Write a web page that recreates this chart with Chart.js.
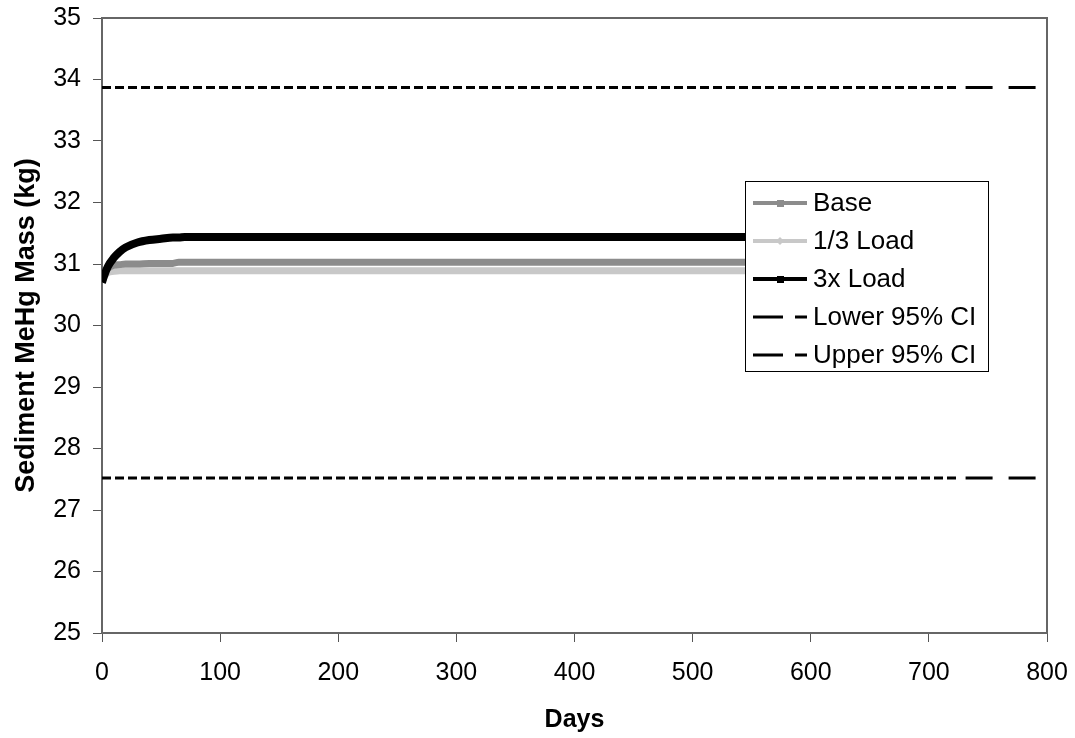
<!DOCTYPE html>
<html>
<head>
<meta charset="utf-8">
<script src="https://cdn.jsdelivr.net/npm/chart.js@4/dist/chart.umd.min.js"></script>
<style>
  html, body { margin: 0; padding: 0; background: #fff; }
  #wrap { width: 1075px; height: 738px; }
</style>
</head>
<body>
<div id="wrap"><canvas id="massChart" width="1075" height="738"></canvas></div>
<script>
// values
const days = [0, 2, 5, 10, 15, 20, 30, 40, 50, 60, 65, 70, 730];
const baseMass = [30.70, 30.84, 30.93, 30.98, 30.99, 31.00, 31.00, 31.01, 31.01, 31.01, 31.03, 31.03, 31.03];
const oneThirdMass = [30.70, 30.80, 30.86, 30.88, 30.89, 30.89, 30.89, 30.89, 30.89, 30.89, 30.89, 30.89, 30.89];
const threeXMass = [30.70, 30.82, 30.96, 31.10, 31.20, 31.27, 31.35, 31.39, 31.41, 31.43, 31.43, 31.44, 31.44];

const ciDays = [0, 726, 791];
const lowerCI = [27.52, 27.52, 27.52];
const upperCI = [33.87, 33.87, 33.87];

const seriesNames = ['Base', '1/3 Load', '3x Load', 'Lower 95% CI', 'Upper 95% CI'];
const xTicks = [0, 100, 200, 300, 400, 500, 600, 700, 800];
const yTicks = [25, 26, 27, 28, 29, 30, 31, 32, 33, 34, 35];

const FONT = "'Liberation Sans', Arial, sans-serif";
const toPoints = (xs, ys) => xs.map((x, i) => ({ x: x, y: ys[i] }));

// CI lines: fine dashes, then two long dashes at the end
const ciSegment = {
    borderDash: ctx => ctx.p0DataIndex >= 1 ? [27, 16] : [9, 4],
    borderDashOffset: ctx => ctx.p0DataIndex >= 1 ? 37 : 0
};

// frame round the plot area
const frame = {
    id: 'frame',
    beforeDatasetsDraw(chart) {
        const a = chart.chartArea, c = chart.ctx;
        c.save();
        c.strokeStyle = '#666';
        c.lineWidth = 2;
        c.strokeRect(a.left, a.top, a.right - a.left, a.bottom - a.top);
        c.restore();
    }
};

// legend box drawn inside the plot, like the original
const boxLegend = {
    id: 'boxLegend',
    afterDraw(chart) {
        const c = chart.ctx;
        const x0 = 745, y0 = 181, w = 243, h = 190, step = 38;
        c.save();
        c.fillStyle = '#fff';
        c.fillRect(x0, y0, w, h);
        c.strokeStyle = '#000';
        c.lineWidth = 1;
        c.strokeRect(x0 + 0.5, y0 + 0.5, w, h);
        chart.data.datasets.forEach((ds, i) => {
            const y = y0 + 22 + i * step;
            c.strokeStyle = ds.borderColor;
            c.lineWidth = i < 3 ? 4 : 3;
            c.setLineDash(i < 3 ? [] : [30, 12, 12, 100]);
            c.beginPath();
            c.moveTo(753, y);
            c.lineTo(807, y);
            c.stroke();
            c.setLineDash([]);
            c.fillStyle = ds.borderColor;
            if (i === 0 || i === 2) {
                c.fillRect(777, y - 3, 7, 7);
            } else if (i === 1) {
                c.beginPath();
                c.moveTo(780, y - 4); c.lineTo(784, y); c.lineTo(780, y + 4); c.lineTo(776, y);
                c.closePath();
                c.fill();
            }
            c.fillStyle = '#000';
            c.font = '26px ' + FONT;
            c.textBaseline = 'middle';
            c.fillText(ds.label, 813, y + 1);
        });
        c.restore();
    }
};

new Chart(document.getElementById('massChart'), {
    type: 'line',
    data: {
        datasets: [
            { label: seriesNames[0], data: toPoints(days, baseMass), borderColor: '#8c8c8c', borderWidth: 7, order: 3, cubicInterpolationMode: 'monotone' },
            { label: seriesNames[1], data: toPoints(days, oneThirdMass), borderColor: '#c8c8c8', borderWidth: 7, order: 4, cubicInterpolationMode: 'monotone' },
            { label: seriesNames[2], data: toPoints(days, threeXMass), borderColor: '#000', borderWidth: 8, order: 1, cubicInterpolationMode: 'monotone' },
            { label: seriesNames[3], data: toPoints(ciDays, lowerCI), borderColor: '#000', borderWidth: 3, order: 2, segment: ciSegment },
            { label: seriesNames[4], data: toPoints(ciDays, upperCI), borderColor: '#000', borderWidth: 3, order: 2, segment: ciSegment }
        ]
    },
    options: {
        responsive: false,
        animation: false,
        layout: { padding: { left: 0, right: 28, top: 18, bottom: 0 } },
        elements: { point: { radius: 0 }, line: { borderCapStyle: 'butt' } },
        plugins: { legend: { display: false }, tooltip: { enabled: false } },
        scales: {
            x: {
                type: 'linear',
                min: 0, max: 800,
                afterBuildTicks: s => { s.ticks = xTicks.map(v => ({ value: v })); },
                afterFit: s => { s.height = 105; s.paddingLeft = 0; s.paddingRight = 0; },
                grid: { drawOnChartArea: false, drawTicks: true, tickLength: 9, color: '#555', lineWidth: 1 },
                border: { display: true, color: '#555', width: 2 },
                ticks: { color: '#000', font: { family: FONT, size: 25 }, padding: 16, maxRotation: 0 },
                title: { display: true, text: 'Days', color: '#000', font: { family: FONT, size: 25, weight: 'bold' }, padding: { top: 4, bottom: 3 } }
            },
            y: {
                min: 25, max: 35,
                afterBuildTicks: s => { s.ticks = yTicks.map(v => ({ value: v })); },
                afterFit: s => { s.width = 102; s.paddingTop = 0; s.paddingBottom = 0; },
                grid: { drawOnChartArea: false, drawTicks: true, tickLength: 9, color: '#555', lineWidth: 1 },
                border: { display: true, color: '#555', width: 2 },
                ticks: { color: '#000', font: { family: FONT, size: 25 }, padding: 12 },
                title: { display: true, text: 'Sediment MeHg Mass (kg)', color: '#000', font: { family: FONT, size: 27, weight: 'bold' }, padding: { top: 10, bottom: 4 } }
            }
        }
    },
    plugins: [frame, boxLegend]
});
</script>
</body>
</html>
